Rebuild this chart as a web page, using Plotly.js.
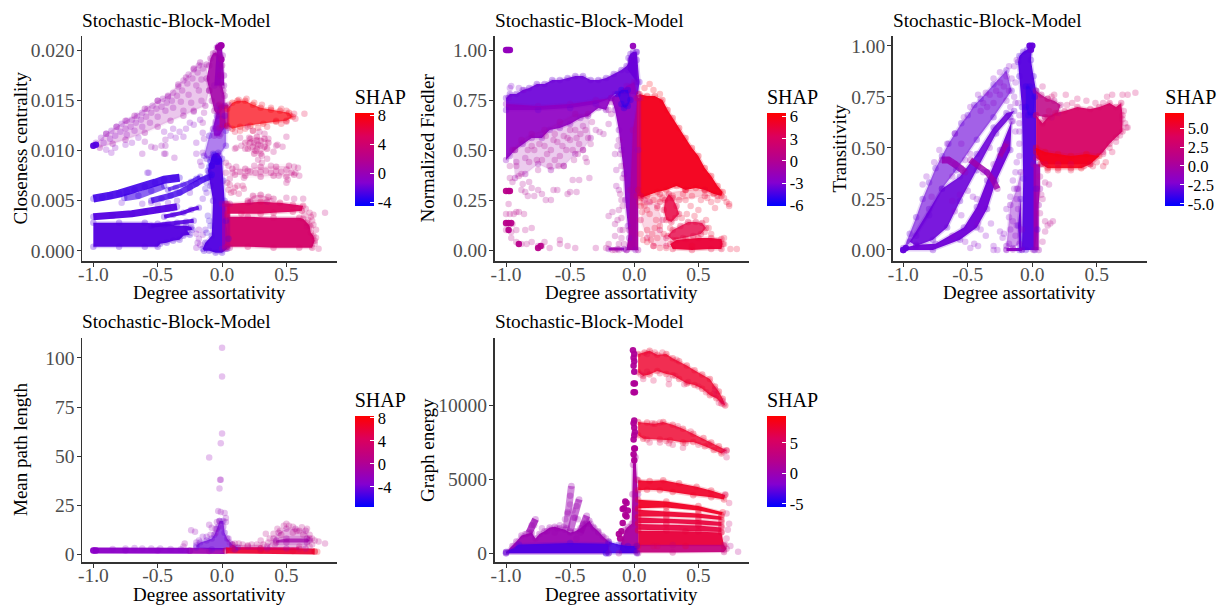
<!DOCTYPE html>
<html><head><meta charset="utf-8">
<script src="https://cdn.plot.ly/plotly-3.0.1.min.js"></script>
<style>html,body{margin:0;padding:0;background:#fff}#g{width:1220px;height:608px}</style>
</head><body><div id="g"></div>
<script>
const chartTitle = "Stochastic-Block-Model";
const xLabel = "Degree assortativity";
const xTicks = [-1, -0.5, 0, 0.5];
const xTickText = ["-1.0", "-0.5", "0.0", "0.5"];
const shapStops = [[0,'#0000ff'],[0.25,'#8400d0'],[0.5,'#b4008f'],[0.75,'#dc005c'],[1,'#ff0000']];

// Regions: [shap, alpha, lineWidth, closed, xs, ys]
const closenessRegions = [
 [-2.5,.96,3,1,[-1,-.8,-.6,-.5,-.42,-.35,-.28,-.24,-.23,-.27,-.25,-.3,-.33,-.38,-.43,-.48,-.5,-.6,-.8,-1],[.0028,.0028,.0028,.0027,.0027,.0025,.0025,.0024,.0021,.002,.0016,.0015,.0011,.001,.0008,.0007,.0004,.0004,.0004,.0004]],
 [-2.5,.95,7,0,[-1,-.85,-.7,-.6,-.5,-.42,-.35],[.0034,.0035,.0037,.0039,.0041,.0042,.0044]],
 [-2.5,.9,4,0,[-.55,-.45,-.35,-.28,-.22],[.0025,.0026,.0028,.0029,.003]],
 [-2.5,.9,4,0,[-.45,-.38,-.3,-.24,-.18],[.0034,.0036,.0038,.0041,.0043]],
 [-3,.9,8,0,[-1,-.93,-.87,-.8,-.74,-.68,-.6,-.52,-.45,-.38,-.33],[.0052,.0053,.0055,.0057,.0059,.0061,.0064,.0068,.0071,.0073,.0073]],
 [-3,.6,7,0,[-.76,-.65,-.55,-.45],[.0053,.0055,.006,.0065]],
 [-3,.8,6,0,[-.55,-.47,-.4,-.33,-.25,-.2,-.15,-.12,-.09],[.005,.0052,.0055,.0058,.0063,.0067,.0071,.0073,.0074]],
 [-3,.7,4,0,[-.42,-.36,-.3,-.24,-.2,-.17],[.0061,.0063,.0066,.0069,.0072,.0074]],
 [-2.6,.96,3,1,[-.15,-.13,-.08,-.07,-.09,-.11,-.09,-.07,-.03,0,.01,.02,.03,.05,.04,0,-.05,-.1,-.14],[.0002,.0008,.0015,.005,.0065,.008,.009,.0097,.0098,.0092,.007,.005,.003,.0012,.0002,-.0002,-.0002,0,0]],
 [-2.2,.5,3,1,[-.14,-.1,-.04,.02,.03,.03,-.02,-.08,-.12],[.0095,.0115,.0135,.0135,.012,.0105,.0095,.0093,.0092]],
 [-1,.85,3,1,[-.07,-.03,.02,.03,-.02,-.06],[.0122,.0145,.0145,.0125,.0115,.0115]],
 [.7,.9,3,1,[-.1,-.09,-.07,-.05,-.03,-.01,0,-.01,0,.01,.02,.02,-.03,-.06,-.08,-.1,-.12],[.0185,.0192,.0197,.0198,.0196,.0193,.0185,.0175,.0165,.016,.0155,.0145,.0135,.014,.015,.016,.0172]],
 [0,.95,2,1,[-.04,-.025,-.005,.005,.015,.015,-.06],[.0203,.0205,.0205,.0195,.0175,.0165,.0165]],
 [.7,.22,3,1,[-1,-.9,-.82,-.75,-.68,-.6,-.5,-.42,-.34,-.28,-.22,-.17,-.12,-.1,-.13,-.22,-.3,-.4,-.5,-.6,-.75,-.85,-.95],[.0105,.0117,.0124,.013,.0135,.0142,.015,.0155,.0166,.0173,.0182,.0188,.0186,.016,.0145,.014,.0135,.013,.0124,.0118,.0111,.0107,.0103]],
 [4.4,.96,3,1,[.04,.2,.4,.6,.7,.72,.71,.69,.68,.66,.63,.6,.4,.2,.04],[.0004,.0004,.0003,.0003,.0003,.001,.0015,.0018,.0025,.0028,.0032,.0033,.0033,.0034,.0034]],
 [0,.92,2,1,[0,.03,.03,0],[.0002,.0002,.0047,.0047]],
 [2.3,.92,2,1,[.025,.06,.06,.025],[.0003,.0003,.0047,.0047]],
 [5,.94,3,1,[.04,.04,.2,.3,.45,.55,.63,.62,.55,.4,.3,.15],[.0037,.0047,.0048,.0049,.0048,.0046,.0045,.004,.0039,.0038,.0037,.0037]],
 [3.5,.3,4,1,[.2,.24,.3,.36,.4,.35,.22],[.005,.0055,.0056,.0054,.0052,.0049,.0049]],
 [7.8,.72,3,1,[.04,.04,.08,.12,.18,.24,.3,.38,.45,.52,.55,.5,.42,.32,.22,.14,.08],[.0125,.0142,.0148,.015,.015,.0146,.0143,.0141,.014,.0138,.0134,.013,.0129,.0127,.0125,.0124,.0122]],
 [2.2,.7,3,1,[-.02,.05,.05,-.02],[.0123,.0123,.0146,.0146]],
 [3.4,.22,4,1,[.18,.22,.27,.33,.36,.35,.3,.25,.2],[.0108,.0112,.0114,.0112,.0108,.0102,.0097,.0097,.0102]],
 [3.2,.16,4,1,[.08,.18,.3,.42,.52,.56,.5,.4,.3,.18,.1],[.0082,.0082,.0084,.0084,.0085,.0076,.0074,.0075,.0074,.0075,.0076]]
];
const closenessPoints = [
[-.98,.0108,-1],[-.94,.0113,-1],[-.9,.0117,-1],[-.86,.012,-1],[-.82,.0124,-1],[-.78,.0127,-1],[-.74,.013,-.5],[-.7,.0131,-.5],[-.66,.0135,-.5],[-.62,.0138,-.5],[-.58,.0142,0],[-.54,.0145,0],[-.5,.015,0],[-.46,.0152,0],[-.42,.0154,0],[-.38,.0158,.5],[-.34,.0164,.5],[-.3,.017,.5],[-.26,.0176,.5],[-.22,.0181,.5],[-.18,.0185,.5],
[-.92,.0108,-1],[-.87,.0112,-1],[-.83,.0115,-1],[-.79,.0119,-1],[-.75,.0122,-.5],[-.71,.0124,-.5],[-.67,.0128,-.5],[-.63,.0131,-.5],[-.59,.0134,0],[-.55,.0138,0],[-.51,.0142,0],[-.47,.0144,0],[-.43,.0148,0],[-.39,.015,0],[-.35,.0155,.5],[-.31,.016,.5],[-.27,.0167,.5],[-.23,.0172,.5],[-.19,.0178,.5],[-.15,.0182,.5],
[-.74,.0116,-.5],[-.68,.012,-.5],[-.62,.0124,-.5],[-.56,.0128,0],[-.5,.0134,0],[-.44,.014,0],[-.38,.0143,0],[-.32,.0149,.5],[-.26,.0156,.5],[-.2,.0165,.5],[-.16,.0171,.5],[-.3,.014,.5],[-.24,.0148,.5],[-.18,.016,.5],[-.22,.0139,.5],[-.16,.015,.5],[-.14,.0138,.5],[-.15,.0128,.5],
[-.6,.0109,0],[-.55,.0104,0],[-.52,.0103,0],[-.47,.0105,0],[-.44,.0111,0],[-.4,.0115,-1],[-.36,.0113,-1],[-.33,.0119,-1],[-.3,.0114,-1],[-.28,.0122,-1],[-.25,.0128,-1],[-.22,.0126,-1],[-.17,.0131,-1],[-.45,.0119,-1],[-.38,.0122,-1],[-.62,.0097,0],[-.86,.0098,-1],[-.9,.0101,-1],[-.83,.0103,-1],[-.75,.0106,-1],[-.7,.0108,-1],[-.65,.0113,-1],
[-.45,.0097,0],[-.44,.0105,0],[-.44,.0097,0],[-.58,.0078,-2],[-.37,.0093,0],[-.57,.0078,-2],[-.2,.0097,-1],[-.17,.0089,-1],[-.15,.0098,-1],[-.16,.0085,-1],[-.14,.0112,-1],[-.15,.0118,-1],[-.2,.0108,-1],
[-.55,.0048,-2],[-.5,.0046,-2],[-.42,.0048,-2],[-.35,.005,-2],[-.25,.0058,-2],[-.62,.0047,-2],[-.78,.0048,-2],[-.18,.0021,-1],[-.2,.0017,-1],[-.15,.0016,-1],[-.18,.0012,-1],[-.2,.0003,-1],[-.19,.0008,-1],[-.17,.0006,-1],[-.15,.0052,-2],[-.12,.0058,-2],[-.13,.0021,-2],
[.8,.0038,3],[.75,.0002,4],[.73,.0013,4],[.73,.0021,4],[.71,.0026,4],[.71,.0036,4],[.7,.003,4],[.69,.0034,4],[.68,.0038,4],[.65,.0042,4],[.63,.0052,3],[.56,.0052,3],[.5,.0053,3],[.66,.0024,4],[.69,.0024,4],[.72,.0007,4],[.67,.0031,4],[.64,.0036,4],
[.64,.0137,6],[.57,.0132,6],[.56,.0137,6],[.53,.0135,7],[.5,.0129,6],[.42,.013,7],[.35,.0124,7],[.28,.0123,7],[.18,.0122,7],[.1,.0119,6],[.13,.0151,7],[.19,.0152,7],[.25,.0148,8],[.31,.0146,7],[.38,.0143,7],[.46,.0142,7],[.5,.014,7],[.46,.0127,7],[.24,.012,7],[.14,.012,7],
[.5,.0114,3],[.47,.0104,3],[.43,.0106,3],[.4,.0099,3],[.36,.0112,3],[.33,.0117,3],[.29,.0119,3],[.24,.012,3],[.2,.0124,4],[.24,.0104,3],[.21,.0113,3],[.15,.0105,3],[.11,.0103,3],[.1,.0102,3],[.18,.0102,3],[.31,.0095,3],[.35,.0092,3],[.27,.011,3],[.3,.0105,3],[.26,.01,3],[.22,.0108,3],[.33,.0104,3],[.14,.0113,3],[.42,.0105,3],[.28,.0106,3],[.25,.0108,3],[.3,.011,3],[.27,.0102,3],
[.56,.0084,3],[.59,.0083,3],[.57,.0078,3],[.6,.0075,3],[.51,.0071,3],[.5,.0068,3],[.44,.0075,3],[.38,.0085,3],[.31,.0088,3],[.28,.0091,3],[.25,.0085,3],[.2,.008,3],[.17,.0073,3],[.14,.0079,3],[.11,.0084,3],[.05,.0085,3],[.08,.0078,3],[.12,.0065,4],[.16,.0065,4],[.17,.0062,4],[.13,.0057,4],[.1,.0063,4],[.06,.0072,3],[.05,.0061,4],[.07,.0058,4],[.04,.0068,3],[.09,.0059,4],[.06,.0066,4],[.03,.0078,3],[.03,.0088,2],[.3,.0079,3],[.34,.008,3],[.38,.0078,3],[.42,.008,3],[.46,.0079,3],[.5,.0081,3],[.54,.0078,3],[.26,.0078,3],[.22,.0079,3],
[-.03,.0092,-4],[-.02,.0089,-4],[-.06,.0096,-4],[-.09,.0089,-4],[-.1,.0084,-4],[-.08,.0076,-4],[-.03,.0122,-1],[-.05,.0129,-1],[-.01,.0117,-1],[-.11,.0074,-3],[-.1,.0078,-3],[-.12,.0068,-3],[-.13,.0062,-3],[-.11,.0035,-3],[-.1,.003,-3],[-.09,.0025,-3],[-.12,.0018,-3]
];
const closenessSolid = [[-.03,.0203,.5],[-.02,.0203,.5],[-.01,.0205,.5],[-.005,.0205,.5],[-.005,.0191,.5],[-1,.0105,-2.5],[-.98,.0106,-2.5],[-.04,.0089,-3],[-.08,.0085,-3],[-.06,.0092,-3]];

const fiedlerRegions = [
 [-3.5,.92,3,1,[-1,-.97,-.92,-.87,-.82,-.76,-.7,-.64,-.58,-.52,-.46,-.4,-.34,-.28,-.22,-.16,-.1,-.06,-.03,-.01,.02,.04,.03,-.15,-.18,-.3,-.5,-.75,-1],[.76,.78,.78,.8,.81,.83,.83,.85,.85,.86,.87,.87,.85,.85,.86,.88,.9,.92,.95,.97,.99,.84,.78,.78,.76,.73,.71,.7,.7]],
 [-2.3,.92,3,1,[-1,-.75,-.5,-.3,-.18,-.22,-.28,-.36,-.42,-.5,-.58,-.66,-.72,-.8,-.87,-.93,-.97,-1],[.73,.72,.73,.75,.76,.7,.71,.67,.66,.63,.61,.6,.56,.56,.53,.5,.47,.45]],
 [-1.2,.2,2,1,[-.95,-.88,-.8,-.7,-.58,-.46,-.36,-.34,-.4,-.46,-.55,-.65,-.75,-.85,-.93],[.5,.55,.58,.6,.64,.68,.68,.56,.5,.48,.42,.4,.43,.38,.36]],
 [-2.3,.96,3,1,[-.18,-.15,-.12,-.1,-.08,-.07,-.05,-.04,-.06,.01,.02,.03,.03,0,-.06],[.76,.7,.6,.5,.38,.25,.12,.06,0,0,.3,.5,.76,.84,.82]],
 [-.6,.96,2,1,[-.06,.03,.03,-.01,-.03,-.04],[0,0,.76,.6,.3,.1]],
 [-5.3,.5,3,1,[-.13,-.1,-.05,-.03,-.05,-.08,-.1],[.78,.8,.8,.75,.72,.71,.73]],
 [-3.6,.96,2,1,[-.05,-.045,-.03,-.01,.015,.02,.02],[.9,.96,.98,.99,.99,.95,.84]],
 [-2,.9,3,0,[-.2,-.13,-.08],[.005,.005,.005]],
 [5.5,.97,3,1,[.04,.1,.16,.22,.26,.3,.35,.4,.45,.5,.55,.6,.65,.69,.68,.62,.55,.48,.4,.33,.25,.18,.1,.05,.03],[.78,.77,.77,.75,.7,.66,.61,.56,.51,.47,.41,.37,.32,.29,.27,.28,.3,.31,.3,.32,.3,.29,.27,.26,.3]],
 [2,.95,2,1,[.02,.05,.05,.02],[.76,.76,.27,.27]],
 [4.8,.2,3,1,[.05,.2,.4,.55,.65,.55,.35,.2,.05],[.27,.28,.3,.3,.27,.27,.25,.24,.22]],
 [4.3,.85,3,1,[.27,.3,.33,.35,.32,.29,.25,.23,.24],[.28,.26,.22,.18,.16,.14,.15,.2,.25]],
 [4.2,.8,3,1,[.26,.3,.36,.42,.48,.53,.56,.52,.46,.38,.3],[.07,.1,.12,.14,.14,.135,.11,.08,.07,.06,.05]],
 [4.6,.96,3,1,[.28,.33,.4,.5,.6,.68,.69,.68,.6,.45,.3],[.03,.05,.055,.06,.06,.055,.03,.005,.005,0,.005]],
 [3.5,.16,3,1,[.08,.12,.18,.22,.2,.25,.25,.15,.1,.05],[.25,.24,.22,.15,.1,.06,.02,.02,.06,.15]]
];
const fiedlerPoints = [
[-.96,.82,-3],[-.97,.81,-3],[-.9,.81,-3],[-.86,.8,-3],[-.98,.76,-3],[-.93,.5,-.5],[-.92,.44,-.5],[-.88,.38,0],[-.85,.46,-.5],[-.82,.44,0],[-.78,.5,0],[-.75,.4,0],[-.72,.45,0],[-.7,.52,0],[-.66,.42,0],[-.62,.45,0],[-.6,.54,0],[-.58,.47,0],[-.55,.42,0],[-.53,.5,0],[-.5,.55,0],[-.47,.45,0],[-.43,.53,0],[-.4,.5,0],[-.38,.46,0],[-.36,.56,0],[-.34,.53,0],[-.37,.44,0],[-.3,.6,-.5],[-.27,.59,-.5],[-.24,.58,-.5],[-.2,.63,-.5],[-.18,.68,-.5],[-.68,.48,0],[-.63,.55,0],[-.56,.52,0],[-.52,.56,0],[-.46,.6,0],[-.42,.58,0],[-.4,.62,-.5],[-.48,.5,0],[-.44,.48,0],[-.76,.45,0],[-.8,.52,0],[-.83,.5,0],[-.65,.5,0],[-.59,.42,0],[-.74,.53,0],[-.69,.57,0],[-.62,.58,0],[-.55,.57,0],[-.5,.6,0],[-.45,.56,0],[-.38,.6,0],[-.33,.64,0],
[-.97,.36,0],[-.95,.34,0],[-.9,.37,0],[-.87,.33,0],[-.85,.29,0],[-.82,.34,0],[-.8,.31,0],[-.78,.27,0],[-.75,.3,0],[-.72,.28,0],[-.69,.25,0],[-.65,.25,0],[-.63,.3,0],[-.6,.3,0],[-.52,.28,0],[-.5,.29,0],[-.45,.29,0],[-.43,.35,0],[-.35,.36,0],[-.48,.35,0],[-.88,.3,0],[-.83,.27,0],[-.92,.42,0],[-.97,.42,0],
[-.98,.23,.5],[-1,.18,.5],[-.97,.18,.5],[-.94,.18,.5],[-.92,.19,.5],[-.9,.19,.5],[-.86,.18,.5],[-1,.13,.5],[-.97,.13,.5],[-.95,.13,.5],[-1,.1,.5],[-.96,.09,.5],[-.92,.1,.5],[-.85,.1,.5],[-.8,.11,.5],[-.96,.06,.5],[-.92,.04,.5],[-.88,.03,.5],[-.84,.03,.5],[-.8,.04,.5],[-.75,.02,.5],[-.72,.02,.5],[-.7,.04,.5],[-.66,.01,.5],[-.58,.05,.5],[-.58,.03,.5],[-.52,.02,.5],[-.46,.01,.5],[-.3,.01,.5],[-.22,.01,.5],[-.2,.03,.5],[-.17,0,.5],[-.13,.15,0],[-.2,.17,0],[-.17,.19,0],[-.15,.13,0],[-.12,.2,0],[-.11,.1,0],[-.1,.25,0],[-.15,.07,0],[-.12,.03,0],[-.15,0,0],[-.12,0,0],[-.09,.36,-1],[-.1,.42,-1],[-.14,.4,-1],[-.15,.48,-1],[-.13,.52,-1],[-.12,.3,-1],[-.14,.32,-1],[-.11,.48,-1],[-.12,.55,-1],[-.1,.16,0],[-.09,.22,0],[-.09,.1,0],[-.08,.03,0],[-.1,.06,0],[-.11,.28,0],[-.18,.74,-1],[-.2,.7,-1],
[.08,.81,6],[.12,.83,6],[.15,.8,6],[.2,.78,6],[.72,.24,5],[.74,.22,5],[.74,.23,5],[.63,.21,5],[.5,.2,5],[.47,.17,5],[.56,.15,5],[.58,.11,5],[.6,.08,5],[.55,.09,5],[.45,.02,5],[.15,.02,5],[.2,.01,5],[.25,.01,5],[.75,.005,5],[.8,.005,5],[.7,.03,5],[.7,.06,5],[.17,.15,5],[.14,.08,5],[.1,.1,5],[.06,.19,5],[.07,.05,5],[.4,.25,5],[.44,.22,5],[.38,.28,5],[.52,.25,5],[.6,.24,5],[.18,.21,5],[.12,.18,5],[.37,.16,5],[.41,.18,5],[.2,.12,5],[.23,.08,5],[.28,.11,5],[.1,.04,5],[.05,.08,5],[.15,.25,5],[.3,.27,5],[.45,.27,5],[.57,.26,5],[.65,.25,5],[.7,.26,5],[.08,.22,5],[.04,.24,5],[.22,.26,5],[.1,.2,5],[.16,.11,5],[.13,.05,5],[.18,.06,5]
];
const fiedlerSolid = [[-1,1,-2],[-.99,1,-2],[-.98,1,-2],[-.97,1,-2],[-.01,1.02,-2],[-1,.295,.5],[-.98,.295,.5],[-.97,.295,.5],[-1,.135,.5],[-.98,.135,.5],[-.96,.135,.5],[-.98,.1,.5],[-.75,.01,.5],[-.73,.02,.5],[-.9,.03,.5]];

const transitivityRegions = [
 [-2.8,.62,3,1,[-1,-.95,-.9,-.85,-.8,-.75,-.7,-.65,-.6,-.55,-.5,-.45,-.4,-.3,-.2,-.16,-.3,-.43,-.59,-.7,-.8,-.9],[0,.08,.16,.25,.33,.4,.46,.52,.57,.62,.66,.71,.74,.81,.88,.78,.65,.54,.39,.3,.17,.07]],
 [-2.8,.9,3,1,[-.95,-.8,-.7,-.56,-.43,-.3,-.2,-.14,-.17,-.28,-.43,-.56,-.66,-.77,-.9],[.04,.2,.3,.36,.47,.6,.67,.68,.65,.57,.39,.24,.11,.05,.02]],
 [-2.7,.96,3,1,[-1,-.9,-.75,-.53,-.43,-.35,-.25,-.16,-.17,-.28,-.35,-.43,-.56,-.77,-1],[.01,.025,.03,.11,.21,.34,.49,.63,.49,.34,.2,.11,.05,0,0]],
 [-1,.82,7,0,[-.7,-.65,-.6,-.55,-.52],[.44,.44,.42,.4,.38]],
 [-.5,.82,6,0,[-.48,-.42,-.35,-.3,-.27],[.44,.41,.38,.34,.3]],
 [-.3,.75,5,0,[-.25,-.23,-.2],[.46,.49,.52]],
 [-3.3,.96,3,1,[-.08,-.07,-.08,-.1,-.11,-.1,-.07,-.04,-.02,0,-.01,.01,.03,.03,.04,.02,-.05,-.1,-.11,-.09],[0,.35,.7,.85,.92,.95,.97,.98,1,1,.93,.85,.78,.3,.1,0,0,0,.12,.25]],
 [-4.2,.5,2,1,[-.05,-.02,.02,.01,-.03,-.05],[.8,.8,.75,.66,.66,.7]],
 [-2,.4,3,1,[-.2,-.17,-.12,-.09,-.08,-.1,-.15],[.02,.22,.3,.38,.1,.03,.01]],
 [-1.5,.95,3,0,[-.2,-.15,-.08],[.002,.002,.002]],
 [-.6,.95,2,1,[.01,.05,.05,.06,.06,.01],[0,0,.22,.3,.42,.42]],
 [1.5,.85,3,1,[.03,.07,.12,.17,.22,.2,.15,.1,.03],[.78,.76,.74,.73,.71,.67,.65,.65,.66]],
 [3.5,.94,3,1,[.03,.1,.2,.3,.45,.55,.6,.65,.7,.7,.69,.65,.6,.52,.45,.35,.25,.18,.12,.08,.03],[.45,.42,.42,.42,.42,.48,.52,.55,.58,.66,.72,.7,.72,.7,.69,.7,.68,.67,.65,.62,.66]],
 [6.2,.9,4,1,[.03,.07,.12,.2,.3,.38,.45,.52,.42,.3,.2,.1,.03],[.48,.42,.4,.4,.4,.4,.42,.46,.47,.46,.47,.48,.5]]
];
const transitivityPoints = [
[-.78,.26,-2],[-.85,.32,-2],[-.82,.36,-2],[-.76,.43,-2],[-.72,.49,-2],[-.66,.52,-2],[-.6,.57,-2],[-.53,.65,-2],[-.48,.7,-2],[-.42,.76,-2],[-.36,.77,-2],[-.3,.84,-2],[-.25,.87,-2],[-.18,.9,-2],[-.3,.72,-2],[-.25,.76,-2],[-.22,.8,-2],[-.18,.78,-2],[-.14,.75,-2],[-.2,.73,-2],[-.16,.84,-2],[-.25,.82,-2],[-.2,.85,-2],[-.14,.9,-2],[-.12,.93,-2],[-.17,.7,-2],[-.38,.72,-2],[-.33,.76,-2],[-.28,.78,-2],[-.4,.68,-2],[-.35,.7,-2],[-.13,.82,-2],[-.13,.72,-2],
[-.62,.36,-2],[-.6,.19,-2],[-.62,.07,-2],[-.56,.27,-2],[-.55,.17,-2],[-.5,.29,-2],[-.45,.03,-2],[-.42,.02,-2],[-.48,.01,-2],[-.38,.38,-2],[-.35,.38,-2],[-.46,.26,-2],[-.43,.25,-2],[-.32,.13,-2],[-.42,.13,-2],[-.4,.1,-2],[-.36,.07,-2],[-.3,.02,-2],[-.3,0,-2],[-.27,0,-2],[-.23,.06,-2],[-.22,.08,-2],[-.25,.09,-2],[-.2,.2,-2],[-.18,.16,-2],[-.17,.1,-2],[-.15,.14,-2],[-.18,.03,-2],[-.2,0,-2],[-.17,.26,-2],[-.14,.3,-2],[-.15,.34,-2],[-.12,.43,-2],[-.1,.46,-2],[-.13,.38,-2],[-.1,.62,-2],[-.1,.66,-2],[-.13,.58,-2],[-.15,.63,-2],[-.55,.52,-2],[-.52,.44,-2],[-.48,.47,-2],[-.33,.5,-2],[-.3,.42,-2],[-.62,.24,-2],[-.52,.04,-2],
[-.12,.25,-2],[-.11,.3,-2],[-.11,.2,-2],[-.12,.12,-2],[-.13,.07,-2],[-.1,.52,-2],[-.1,.58,-2],[-.11,.72,-2],
[.08,.8,2],[.17,.76,3],[.15,.75,3],[.12,.74,3],[.26,.76,3],[.42,.73,3],[.35,.74,3],[.31,.72,3],[.58,.75,3],[.62,.76,3],[.7,.76,3],[.74,.76,3],[.8,.77,3],[.73,.6,3],[.7,.64,3],[.65,.53,3],[.68,.56,3],[.57,.43,5],[.55,.41,5],[.5,.43,5],[.47,.41,5],[.13,.68,3],[.1,.65,3],[.08,.63,3],[.12,.39,5],[.2,.39,5],[.3,.39,5],[.4,.41,5],[.74,.6,3],[.6,.5,4],[.62,.48,4],[.55,.47,4],[.49,.72,3],[.55,.72,3],[.27,.71,3],[.71,.68,3],[.72,.62,3],
[.06,.36,1],[.1,.33,1],[.08,.25,1],[.13,.32,1],[.07,.27,1],[.1,.14,1],[.14,.13,1],[.16,.14,1],[.12,.12,1],[.1,.09,1],[.08,.04,1],[.06,.18,1]
];
const transitivitySolid = [[-.02,1,-3],[0,1,-3],[-.01,.98,-3],[-1,0,-3],[-.98,.01,-3]];

const pathRegions = [
 [-3,.96,6,0,[-1,-.75,-.5,-.25],[2,1.9,1.9,1.8]],
 [-1.6,.92,6,0,[-.25,-.1,.02],[1.8,1.7,1.7]],
 [-4.2,.72,3,1,[-.2,-.17,-.12,-.08,-.06,-.04,-.02,.01,.02,.04,.08,.12,.1,-.08,-.2],[4.5,6,7,8,10,13,17,17,11,8,5,3.5,2.5,2.5,3.5]],
 [1.5,.3,2,1,[.08,.2,.32,.3,.08],[5,4.5,5,3,3]],
 [-.3,.3,3,1,[.35,.4,.44,.5,.57,.65,.68,.65,.5,.35],[4,8,11,13,13,12,8,3,3,3]],
 [-1,.72,5,1,[.42,.5,.66,.68,.66,.5,.42],[7,8,8,7,6,6,6]],
 [6.2,.92,6,0,[.03,.3,.55,.72],[2,1.9,1.7,1.4]],
 [4,.75,3,0,[.08,.3,.6],[3,3,2.8]]
];
const pathPoints = [
[0,105.2,-2],[0,90.5,-2],[0,61.5,-2],[-.01,56.5,-2],[-.1,49.3,-2],[-.015,38,-2],[-.01,38,-2],[-.02,33.5,-2],[-.03,22,-2],[-.01,21.5,-2],[.02,21,-2],[.03,18.5,-2],[-.02,17,-2],[-.04,16.5,-2],[.03,16.5,-2],[-.1,15,-2],[-.08,13.5,-2],[-.05,13,-2],[-.24,12.3,-2],[-.21,11.5,-2],[-.09,10,-2],[-.05,11,-2],[-.29,5.5,-1],[-.3,4,-1],[.8,5.5,1],[.75,6.5,1],[.72,7,1],[.66,13,1],[.62,13.8,1],[.55,14,1],[.58,12,1],[.5,15.5,1],[.48,14.5,1],[.43,13,1],[.4,10.5,1],[.34,10.5,1],[.3,7,1],[.27,5,1],[.23,5,1],[.2,4,1],[.16,5,1],[.13,5.5,1],[.1,5.5,1],[.52,14.5,1],[.6,12,1],[.45,12,1],[-.75,3,-3],[-.68,3.2,-3],[-.62,3,-3],[-.55,3,-3],[-.48,3,-3],[-.4,2.7,-3],[-.32,2.6,-3],[-.85,2.7,-3],[.05,8,-2],[.06,6,-2],[.72,1.4,7],[.74,1.3,7],[.37,8,1],[.36,6,1],[.41,5,1],[.46,10,1],[.55,11,1],[.63,10,1],[.68,10,1],[.7,8,1],[.7,5,1],[.68,4,1],[.6,4,1],[-.15,9,-3],[-.12,9,-3],[-.18,7,-3],[-.2,6,-3],[-.03,14,-3],[.01,14,-3]
];
const pathSolid = [[-1,2,-3],[-.98,2,-3]];

const energyRegions = [
 [7.6,.82,3,1,[.03,.08,.12,.18,.25,.3,.35,.41,.47,.53,.59,.63,.66,.69,.71,.68,.64,.59,.53,.47,.41,.35,.3,.25,.18,.12,.07,.03],[13500,13600,13720,13450,13500,13200,13000,12710,12400,12100,11810,11300,10950,10460,10010,10150,10500,10700,11150,11400,11500,11800,12050,12150,12350,12100,12000,12260]],
 [7.6,.82,3,1,[.03,.1,.16,.226,.3,.38,.46,.54,.6,.66,.72,.68,.62,.55,.46,.38,.28,.2,.07,.03],[8890,8850,8780,8890,8700,8440,8100,7800,7500,7250,6980,6750,7000,7250,7540,7500,7650,7700,7760,7990]],
 [7.8,.92,3,1,[.03,.12,.226,.35,.486,.6,.71,.7,.6,.46,.3,.2,.1,.03],[4950,4900,4950,4750,4500,4250,3940,3650,3800,3937,4150,4275,4300,4275]],
 [7.9,.95,2,1,[.03,.25,.5,.69,.68,.5,.25,.03],[3620,3500,3200,2780,2600,2900,3100,3050]],
 [7.5,.93,2,1,[.03,.25,.5,.68,.68,.5,.25,.03],[2950,2850,2700,2500,2250,2400,2500,2500]],
 [7,.93,2,1,[.03,.25,.5,.68,.68,.5,.25,.03],[2420,2350,2250,2120,1850,1950,2050,2050]],
 [6.8,.93,2,1,[.03,.25,.5,.68,.68,.5,.25,.03],[1980,1950,1880,1750,1450,1500,1550,1600]],
 [7,.96,2,1,[.03,.4,.68,.7,.4,.03],[1520,1500,1400,500,500,500]],
 [3.4,.94,2,1,[.02,.3,.7,.72,.7,.3,.02],[560,560,560,300,80,60,60]],
 [1,.96,3,1,[-.12,-.1,-.07,-.05,-.02,-.015,-.01,0,.01,.02,.03,.03],[0,800,1600,1800,2000,4000,6000,6600,6500,5000,4000,0]],
 [-3.6,.9,3,1,[-.22,-.2,-.12,-.05,.02,.02,-.22],[0,780,600,500,500,0,0]],
 [0,.94,3,1,[-1,-.95,-.92,-.88,-.84,-.8,-.77,-.74,-.7,-.66,-.62,-.58,-.54,-.5,-.46,-.42,-.38,-.35,-.32,-.28,-.24,-.2,-.2,-1],[80,500,800,1200,1300,1400,1000,1300,1500,1750,1800,1700,1600,1400,1500,1700,2000,2200,1800,1500,1100,800,0,0]],
 [-3.3,.94,3,1,[-1,-.9,-.5,-.2,-.2,-1],[80,600,700,650,0,0]],
 [0,.45,7,0,[-.53,-.52,-.5,-.49],[1700,2700,3900,4550]],
 [0,.55,7,0,[-.5,-.47,-.45,-.43],[1500,2400,3200,3650]],
 [0,.65,7,0,[-.42,-.4,-.37],[1400,2000,2550]],
 [0,.75,7,0,[-.82,-.8,-.77],[1400,1900,2300]]
];
const energyPoints = [
[.81,100,2],[.75,500,2],[.74,2000,4],[.73,1600,4],[.74,3400,5],[.72,6500,5],[.72,6950,5],[.7,6900,5],[.7,10100,5],[.69,10300,5],[.66,10200,6],[.64,10700,6],[.63,11100,6],[.39,11450,6],[.27,11450,6],[.27,11800,6],[.15,11700,6],[.07,11800,6],[.05,12100,6],[.38,7150,6],[.3,7350,6],[.27,7450,6],[.2,7500,6],[.12,7500,6],[.71,4000,5],[.72,2700,5],[.72,1000,4],[.71,600,4],[.7,200,4],[.18,500,6],[.15,500,6],[.1,13500,7],[.16,13600,7],[.22,13600,7],[.33,13100,7],[.1,12300,7],[.2,12200,7],[.32,12000,7],[.42,11600,7],[.5,11300,7],[.56,10900,7],[.62,10800,7],[.14,8800,7],[.2,8850,7],[.34,8600,7],[.44,8250,7],[.58,7400,7],[.1,7700,7],[.25,7600,7],[.4,7450,7],[.5,7350,7],
[-.55,1800,0],[-.58,1900,0],[-.6,1700,0],[-.62,1400,0],[-.45,1000,0],[-.54,2300,0],[-.52,2800,0],[-.5,3300,0],[-.48,2900,0],[-.46,2400,0],[-.44,2300,0],[-.4,1900,0],[-.37,2100,0],[-.34,2000,0],[-.31,1700,0],[-.28,1400,0],[-.25,1200,0],[-.22,1000,0],[-.72,1700,0],[-.78,1900,0],[-.85,1300,0],[-.68,1500,0]
];
const energySolid = [[-.01,13750,1.5],[.0,13500,1.5],[-.005,13250,1.5],[0,13000,1.5],[-.005,12700,1.5],[0,12300,1.5],[-.005,11500,1.5],[.005,11500,1.5],[-.005,10900,1.5],[.005,10900,1.5],[0,9000,1.5],[-.005,8800,1.5],[0,8500,1.5],[.005,8200,1.5],[0,8000,1.5],[-.005,7700,1.5],[0,7100,1.5],[.005,7100,1.5],[-.005,6700,1.5],[0,6300,1.5],[-.07,3500,1.5],[-.06,3400,1.5],[-.08,3050,1.5],[-.09,3000,1.5],[-.07,2600,1.5],[-.06,2500,1.5],[-.05,2900,1.5],[-.09,2050,1.5],[-.1,1500,1.5],[-.12,1300,1.5],[-.11,1000,1.5]];

const panels = [
 {yT:"Closeness centrality", xr:[-1.088,.893], yr:[-.00103,.02146], yv:[0,.005,.01,.015,.02], yt:["0.000","0.005","0.010","0.015","0.020"], box:[82,337,36,261], r:closenessRegions, p:closenessPoints, s:closenessSolid, c:[-4.55,8.3], cv:[8,4,0,-4], ct:["8","4","0","-4"], cb:[354.7,113,93], tx:82, ty:20, ytx:20},
 {yT:"Normalized Fiedler", xr:[-1.09,.895], yr:[-.055,1.07], yv:[0,.25,.5,.75,1], yt:["0.00","0.25","0.50","0.75","1.00"], box:[494.5,749,36,261], r:fiedlerRegions, p:fiedlerPoints, s:fiedlerSolid, c:[-6.1,6.5], cv:[6,3,0,-3,-6], ct:["6","3","0","-3","-6"], cb:[767,113,93], tx:494.5, ty:20, ytx:427},
 {yT:"Transitivity", xr:[-1.082,.89], yr:[-.054,1.0475], yv:[0,.25,.5,.75,1], yt:["0.00","0.25","0.50","0.75","1.00"], box:[892.7,1147,36,261], r:transitivityRegions, p:transitivityPoints, s:transitivitySolid, c:[-5.3,7], cv:[5,2.5,0,-2.5,-5], ct:["5.0","2.5","0.0","-2.5","-5.0"], cb:[1165.3,113,93], tx:893, ty:20, ytx:839},
 {yT:"Mean path length", xr:[-1.088,.893], yr:[-4.07,110.3], yv:[0,25,50,75,100], yt:["0","25","50","75","100"], box:[82,337,337.7,562.3], r:pathRegions, p:pathPoints, s:pathSolid, c:[-7.5,8.3], cv:[8,4,0,-4], ct:["8","4","0","-4"], cb:[354.7,416,91], tx:82, ty:321, ytx:20},
 {yT:"Graph energy", xr:[-1.09,.895], yr:[-610,14600], yv:[0,5000,10000], yt:["0","5000","10000"], box:[494.5,749,337.7,562.3], r:energyRegions, p:energyPoints, s:energySolid, c:[-5.5,9.4], cv:[5,0,-5], ct:["5","0","-5"], cb:[767,416,91], tx:494.5, ty:321, ytx:427}
];

const W = 1220, H = 608, serif = "Liberation Serif, Times New Roman, serif";
function hex(c){return [1,3,5].map(i=>parseInt(c.substr(i,2),16));}
function shapColor(f,a){
  f=Math.max(0,Math.min(1,f));
  for(let i=1;i<shapStops.length;i++){
    if(f<=shapStops[i][0]){
      const t=(f-shapStops[i-1][0])/(shapStops[i][0]-shapStops[i-1][0]);
      const A=hex(shapStops[i-1][1]),B=hex(shapStops[i][1]);
      return `rgba(${A.map((v,k)=>Math.round(v+(B[k]-v)*t)).join(',')},${a})`;
    }
  }
}
const traces=[]; const layout={width:W,height:H,margin:{l:0,r:0,t:0,b:0},paper_bgcolor:'#fff',plot_bgcolor:'#fff',showlegend:false,hovermode:false,annotations:[],font:{family:serif}};
panels.forEach((P,i)=>{
  const n=i===0?'':String(i+1), xa='x'+n, ya='y'+n;
  const tf={family:serif,size:19.5,color:'#4d4d4d'};
  layout['xaxis'+n]={domain:[P.box[0]/W,P.box[1]/W],range:P.xr,anchor:ya,tickmode:'array',tickvals:xTicks,ticktext:xTickText,showgrid:false,zeroline:false,showline:true,linecolor:'#333',linewidth:1.5,ticks:'outside',ticklen:4,tickcolor:'#333',tickfont:tf,ticklabelstandoff:-9};
  layout['yaxis'+n]={domain:[1-P.box[3]/H,1-P.box[2]/H],range:P.yr,anchor:xa,tickmode:'array',tickvals:P.yv,ticktext:P.yt,showgrid:false,zeroline:false,showline:true,linecolor:'#333',linewidth:1.5,ticks:'outside',ticklen:4,tickcolor:'#333',tickfont:tf,ticklabelstandoff:-2};
  const tfont={family:serif,size:19,color:'#000'};
  layout.annotations.push({xref:'paper',yref:'paper',x:P.tx/W,y:1-P.ty/H,xanchor:'left',yanchor:'middle',xshift:-2,showarrow:false,text:chartTitle,font:{family:serif,size:19.3,color:'#000'}});
  layout.annotations.push({xref:'paper',yref:'paper',x:(P.box[0]+P.box[1])/2/W,y:1-(P.box[3]+32)/H,xanchor:'center',yanchor:'middle',showarrow:false,text:xLabel,font:tfont});
  layout.annotations.push({xref:'paper',yref:'paper',x:P.ytx/W,y:1-(P.box[2]+P.box[3])/2/H,xanchor:'center',yanchor:'middle',textangle:-90,showarrow:false,text:P.yT,font:tfont});
  const frac=s=>(s-P.c[0])/(P.c[1]-P.c[0]);
  P.r.forEach(R=>{
    const col=shapColor(frac(R[0]),R[1]);
    traces.push({type:'scatter',mode:'lines',xaxis:xa,yaxis:ya,x:R[4],y:R[5],fill:R[3]?'toself':'none',fillcolor:col,line:{color:R[3]?shapColor(frac(R[0]),Math.min(.2,R[1]*.25)):col,width:R[2],shape:'linear'},hoverinfo:'skip',cliponaxis:false});
  });
  const pts=(arr,op,bar)=>({type:'scatter',mode:'markers',xaxis:xa,yaxis:ya,x:arr.map(q=>q[0]),y:arr.map(q=>q[1]),hoverinfo:'skip',cliponaxis:false,
    marker:Object.assign({size:6.5,opacity:op,color:arr.map(q=>q[2]),colorscale:shapStops,cmin:P.c[0],cmax:P.c[1],line:{width:0}},bar?{showscale:true,colorbar:{x:P.cb[0]/W,xanchor:'left',xpad:0,y:1-(P.cb[1]-27)/H,yanchor:'top',ypad:0,len:P.cb[2]+27,lenmode:'pixels',thickness:18.5,thicknessmode:'pixels',outlinewidth:0,ticks:'inside',ticklen:4,tickwidth:1,tickcolor:'#fff',tickmode:'array',tickvals:P.cv,ticktext:P.ct,tickfont:{family:serif,size:16.5,color:'#000'},title:{text:'SHAP',side:'top',font:{family:serif,size:20,color:'#000'}}}}:{showscale:false})});
  // the outline vertices double as points, giving the dense regions their dotted edge
  const edge=[]; P.r.forEach(R=>R[4].forEach((x,k)=>edge.push([x,R[5][k],R[0]])));
  traces.push(pts(edge,.3,false));
  traces.push(pts(P.p,.24,true));
  traces.push(pts(P.s,.95,false));
});
Plotly.newPlot('g',traces,layout,{staticPlot:true,displayModeBar:false});
</script></body></html>
